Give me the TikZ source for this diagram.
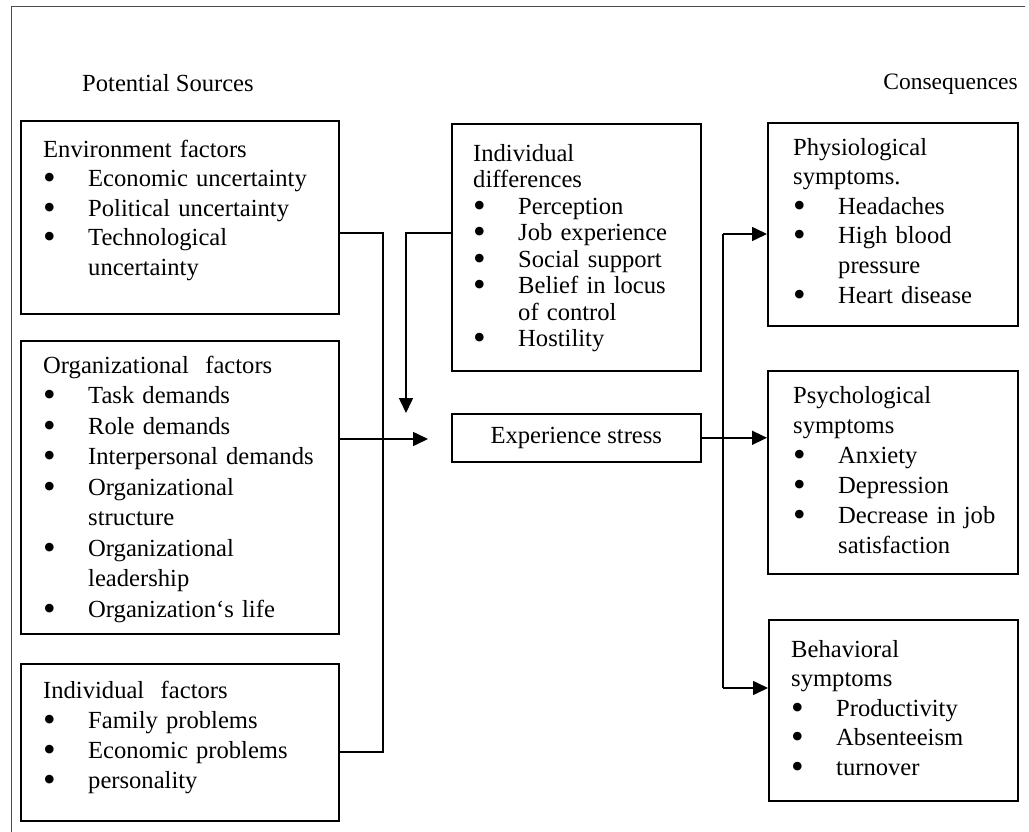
\documentclass[tikz,border=0pt]{standalone}
\usepackage{fontspec}
\setmainfont{Liberation Serif}
\usetikzlibrary{arrows.meta}

% bullet column of the item lists
\newcommand\bul{\makebox[45pt][l]{\smash{\raisebox{-3pt}{\fontsize{36pt}{36pt}\selectfont\textbullet}}}}
\newcommand\cont{\hspace*{45pt}}
\newcommand\topstrut{\rule{0pt}{20pt}}

\begin{document}
\begin{tikzpicture}[x=1pt, y=-1pt,
  box/.style={draw, line width=1.6pt, rectangle, inner sep=0pt, anchor=north west},
  txt/.style={anchor=north west, inner sep=0pt, text width=320pt, align=left,
              font={\fontsize{24.6pt}{#1}\selectfont}},
  txt/.default=30pt,
  conn/.style={line width=1.6pt, line join=miter},
  arrow/.style={conn, -{Triangle[length=15pt, width=14pt]}},
  title/.style={inner sep=0pt, font={\fontsize{24.6pt}{30pt}\selectfont}}
]
\fill[white] (0,0) rectangle (1029,832);
\useasboundingbox (0,0) rectangle (1029,832);

% page frame
\draw[black!70, line width=1pt] (11,832) -- (11,7) -- (1025,7);

% column titles
\node[title, anchor=base west] (srcTitle) at (82,92) {Potential Sources};
\node[title, anchor=base east, font={\fontsize{23.5pt}{30pt}\selectfont}] (conTitle) at (1018,90) {Consequences};

% source boxes
\node[box, minimum width=318, minimum height=193] (env) at (20,120) {};
\node[txt=29.5pt] (envT) at (43,137) {\topstrut Environment factors\\
  \bul Economic uncertainty\\
  \bul Political uncertainty\\
  \bul Technological\\
  \cont uncertainty};

\node[box, minimum width=318, minimum height=293] (org) at (20,340) {};
\node[txt=30.5pt] (orgT) at (43,353) {\topstrut Organizational\ \ factors\\
  \bul Task demands\\
  \bul Role demands\\
  \bul Interpersonal demands\\
  \bul Organizational\\
  \cont structure\\
  \bul Organizational\\
  \cont leadership\\
  \bul Organization\symbol{96}s life};

\node[box, minimum width=318, minimum height=157] (indf) at (20,663) {};
\node[txt=30pt] (indfT) at (43,678) {\topstrut Individual\ \ factors\\
  \bul Family problems\\
  \bul Economic problems\\
  \bul personality};

% moderators and central state
\node[box, minimum width=249, minimum height=247] (diff) at (451,123) {};
\node[txt=26.5pt] (diffT) at (473,141) {\topstrut Individual\\
  differences\\
  \bul Perception\\
  \bul Job experience\\
  \bul Social support\\
  \bul Belief in locus\\
  \cont of control\\
  \bul Hostility};

\node[box, minimum width=249, minimum height=48,
      font={\fontsize{24.6pt}{30pt}\selectfont}] (stress) at (451,413) {Experience stress};

% consequence boxes
\node[box, minimum width=250, minimum height=203] (phys) at (767,122) {};
\node[txt=29.6pt] (physT) at (793,135) {\topstrut Physiological\\
  symptoms.\\
  \bul Headaches\\
  \bul High blood\\
  \cont pressure\\
  \bul Heart disease};

\node[box, minimum width=250, minimum height=203] (psych) at (767,370) {};
\node[txt=30pt] (psychT) at (793,383) {\topstrut Psychological\\
  symptoms\\
  \bul Anxiety\\
  \bul Depression\\
  \bul Decrease in job\\
  \cont satisfaction};

\node[box, minimum width=249, minimum height=181] (behav) at (768,619) {};
\node[txt=29.5pt] (behavT) at (791,637) {\topstrut Behavioral\\
  symptoms\\
  \bul Productivity\\
  \bul Absenteeism\\
  \bul turnover};

% connector turning points
\coordinate (lbusT) at (383,233);
\coordinate (lbusB) at (383,752);
\coordinate (orgTip) at (428,439);
\coordinate (dTurn) at (406,233);
\coordinate (dTip) at (406,413);
\coordinate (rbusT) at (723,234);
\coordinate (rbusB) at (723,688);

% sources into stress
\draw[conn] (lbusT -| env.east) -- (lbusT) -- (lbusB) -- (lbusB -| indf.east);
\draw[arrow] (orgTip -| org.east) -- (orgTip);
\draw[arrow] (dTurn -| diff.west) -- (dTurn) -- (dTip);

% stress to consequences
\draw[conn] (rbusT) -- (rbusB);
\draw[arrow] (stress.east) -- (stress.east -| psych.west);
\draw[arrow] (rbusT) -- (rbusT -| phys.west);
\draw[arrow] (rbusB) -- (rbusB -| behav.west);
\end{tikzpicture}
\end{document}
